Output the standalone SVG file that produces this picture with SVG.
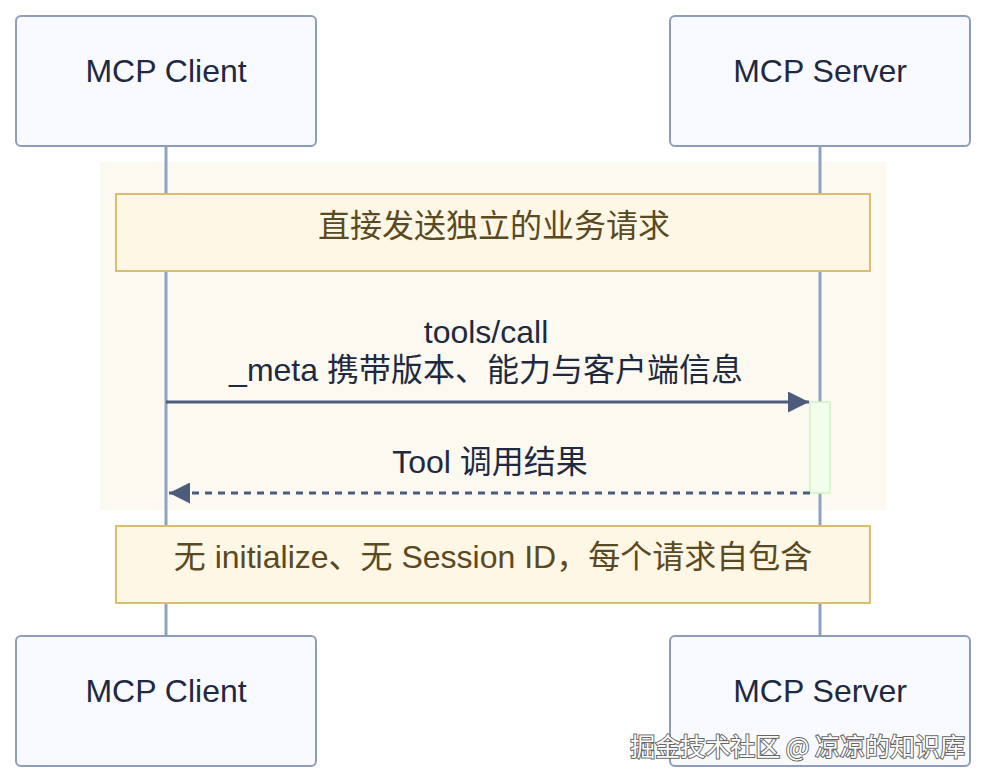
<svg xmlns="http://www.w3.org/2000/svg" width="986" height="784" viewBox="0 0 986 784">
<style>
.actor{fill:#f8faff;stroke:#8e9dba;stroke-width:2}
.atxt{font-family:"Liberation Sans","Noto Sans CJK SC",sans-serif;font-size:32px;fill:#1f2940;text-anchor:middle}
.life{stroke:#8ea2c6;stroke-width:3}
.note{fill:#fff7e5;stroke:#dbbd6e;stroke-width:2}
.ntxt{font-family:"Liberation Sans","Noto Sans CJK SC",sans-serif;font-size:32px;fill:#5a4a22;text-anchor:middle}
.mtxt{font-family:"Liberation Sans","Noto Sans CJK SC",sans-serif;font-size:32px;fill:#1f2940;text-anchor:middle}
.msg{stroke:#4d5b7c;stroke-width:3;fill:none}
.wm{font-family:"Noto Sans CJK SC",sans-serif;font-size:25px;fill:#ffffff;stroke:#666666;stroke-width:2;paint-order:stroke;text-anchor:end}
</style>
<defs>
<marker id="ah" viewBox="0 0 10 10" refX="10" refY="5" markerWidth="7" markerHeight="7" markerUnits="strokeWidth" orient="auto-start-reverse">
<path d="M0,0 L10,5 L0,10 z" fill="#4d5b7c"/>
</marker>
</defs>
<rect x="100" y="162" width="786" height="348" fill="#fcf9f0"/>
<g id="lifelines">
<line class="life" x1="166" y1="146" x2="166" y2="636"/>
<line class="life" x1="820" y1="146" x2="820" y2="636"/>
</g>
<g id="client-top"><rect class="actor" x="16" y="16" width="300" height="130" rx="5"/><text class="atxt" x="166" y="82">MCP Client</text></g>
<g id="server-top"><rect class="actor" x="670" y="16" width="300" height="130" rx="5"/><text class="atxt" x="820" y="82">MCP Server</text></g>
<g id="note1"><rect class="note" x="116" y="194" width="754" height="77"/><text class="ntxt" x="494" y="237">直接发送独立的业务请求</text></g>
<g id="activation"><rect x="810" y="402" width="20" height="91" fill="#f3fdec" stroke="#d3f3c0" stroke-width="1.5"/></g>
<g id="connectors">
<line class="msg" x1="166" y1="402" x2="809" y2="402" marker-end="url(#ah)"/>
<line class="msg" x1="810" y1="493" x2="169" y2="493" stroke-dasharray="7,6" marker-end="url(#ah)"/>
</g>
<g id="labels">
<text class="mtxt" x="486" y="343">tools/call</text>
<text class="mtxt" x="486" y="381">_meta 携带版本、能力与客户端信息</text>
<text class="mtxt" x="490" y="473">Tool 调用结果</text>
</g>
<g id="note2"><rect class="note" x="116" y="526" width="754" height="77"/><text class="ntxt" x="493" y="568">无 initialize、无 Session ID，每个请求自包含</text></g>
<g id="client-bottom"><rect class="actor" x="16" y="636" width="300" height="130" rx="5"/><text class="atxt" x="166" y="702">MCP Client</text></g>
<g id="server-bottom"><rect class="actor" x="670" y="636" width="300" height="130" rx="5"/><text class="atxt" x="820" y="702">MCP Server</text></g>
<text class="wm" x="965" y="756">掘金技术社区 @ 凉凉的知识库</text>
</svg>
